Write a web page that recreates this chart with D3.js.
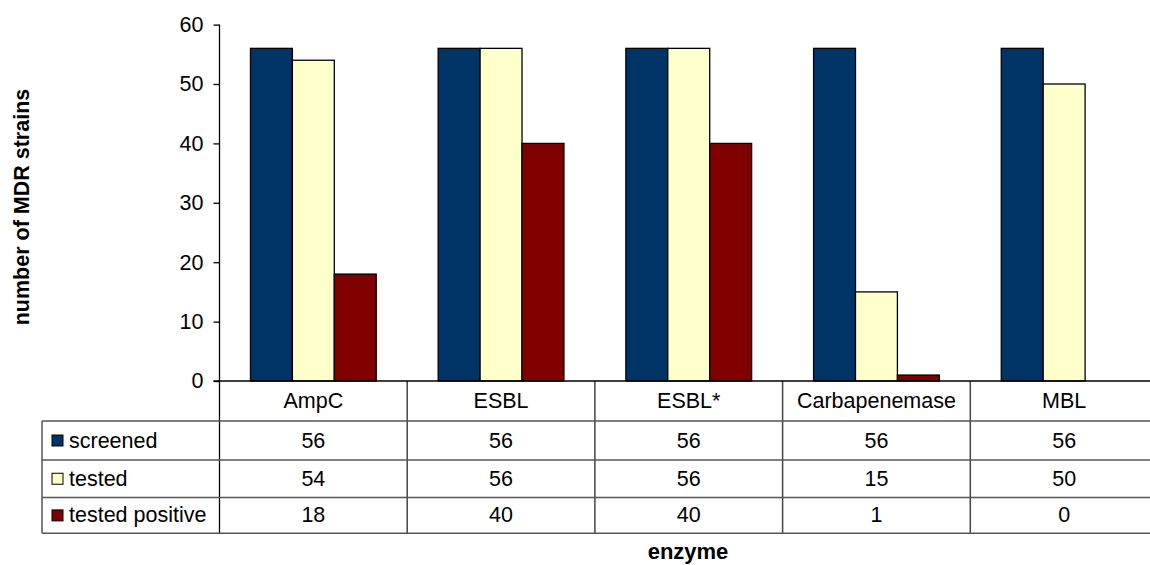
<!DOCTYPE html>
<html>
<head>
<meta charset="utf-8">
<script src="https://cdn.jsdelivr.net/npm/d3@7"></script>
<style>
  html, body { margin: 0; padding: 0; background: #fff; }
  svg { display: block; font-family: "Liberation Sans", Arial, sans-serif; }
</style>
</head>
<body>
<svg id="chart" width="1150" height="565"></svg>
<script>
// Enzymes screened in MDR strains
const categories = ["AmpC", "ESBL", "ESBL*", "Carbapenemase", "MBL"];
const seriesNames = ["screened", "tested", "tested positive"];
const screened = [56, 56, 56, 56, 56];
const tested = [54, 56, 56, 15, 50];
const testedPositive = [18, 40, 40, 1, 0];
const yTicks = [0, 10, 20, 30, 40, 50, 60];
const colors = ["#003366", "#FFFFCC", "#800000"];

const seriesValues = [screened, tested, testedPositive];

const svg = d3.select("#chart");
const fontSize = 21.5;

const plotLeft = 219.5, plotRight = 1158;
const plotTop = 24.6, plotBottom = 381;
const tableLeft = 42;
const rowLines = [381, 421, 460, 497.5, 533.3];

const x0 = d3.scaleBand().domain(categories).range([plotLeft, plotRight]).padding(0);
const groupPad = x0.bandwidth() * 0.165;
const x1 = d3.scaleBand().domain(seriesNames).range([groupPad, x0.bandwidth() - groupPad]).padding(0);
const y = d3.scaleLinear().domain([0, 60]).range([plotBottom, plotTop]);
const color = d3.scaleOrdinal().domain(seriesNames).range(colors);

// Bars
const groups = svg.append("g").selectAll("g")
  .data(categories)
  .join("g")
  .attr("transform", d => `translate(${x0(d)},0)`);

groups.selectAll("rect")
  .data((c, ci) => seriesNames.map((s, si) => ({ series: s, value: seriesValues[si][ci] })))
  .join("rect")
  .filter(d => d.value > 0)
  .attr("x", d => x1(d.series))
  .attr("y", d => y(d.value))
  .attr("width", x1.bandwidth())
  .attr("height", d => y(0) - y(d.value))
  .attr("fill", d => color(d.series))
  .attr("stroke", "#000")
  .attr("stroke-width", 1.3);

// Y axis
const yAxis = svg.append("g")
  .attr("transform", `translate(${plotLeft},0)`)
  .call(d3.axisLeft(y).tickValues(yTicks).tickSize(6).tickPadding(10).tickFormat(d3.format("d")));
yAxis.select(".domain").remove();
yAxis.selectAll(".tick line").attr("stroke", "#000").attr("stroke-width", 1.3);
yAxis.selectAll(".tick text")
  .attr("font-size", fontSize)
  .attr("font-family", "Liberation Sans, Arial, sans-serif")
  .attr("fill", "#000");

// Data table grid
const grid = svg.append("g").attr("fill", "none");
// vertical axis line continuing down through the table
grid.append("line")
  .attr("x1", plotLeft).attr("x2", plotLeft)
  .attr("y1", y(60)).attr("y2", rowLines[4])
  .attr("stroke", "#000").attr("stroke-width", 1.3);
// category dividers
grid.selectAll("line.cat")
  .data(categories.slice(1))
  .join("line")
  .attr("class", "cat")
  .attr("x1", d => x0(d)).attr("x2", d => x0(d))
  .attr("y1", rowLines[0]).attr("y2", rowLines[4])
  .attr("stroke", "#444").attr("stroke-width", 1.5);
// legend column left border
grid.append("line")
  .attr("x1", tableLeft).attr("x2", tableLeft)
  .attr("y1", rowLines[1]).attr("y2", rowLines[4])
  .attr("stroke", "#555").attr("stroke-width", 1.5);
// row lines
grid.selectAll("line.row")
  .data(rowLines.slice(1))
  .join("line")
  .attr("class", "row")
  .attr("x1", tableLeft).attr("x2", 1150)
  .attr("y1", d => d).attr("y2", d => d)
  .attr("stroke", "#555").attr("stroke-width", 1.5);
// baseline
grid.append("line")
  .attr("x1", plotLeft - 6).attr("x2", 1150)
  .attr("y1", rowLines[0]).attr("y2", rowLines[0])
  .attr("stroke", "#000").attr("stroke-width", 1.3);

// Category headers
svg.append("g").selectAll("text")
  .data(categories)
  .join("text")
  .attr("x", d => x0(d) + x0.bandwidth() / 2)
  .attr("y", (rowLines[0] + rowLines[1]) / 2)
  .attr("text-anchor", "middle")
  .attr("dominant-baseline", "central")
  .attr("font-size", fontSize)
  .text(d => d);

// Table rows: legend key + values
seriesNames.forEach((s, si) => {
  const cy = (rowLines[si + 1] + rowLines[si + 2]) / 2;
  const row = svg.append("g");
  row.append("rect")
    .attr("x", 52).attr("y", cy - 5.5)
    .attr("width", 11).attr("height", 11)
    .attr("fill", color(s))
    .attr("stroke", "#000").attr("stroke-width", 1);
  row.append("text")
    .attr("x", 69).attr("y", cy)
    .attr("dominant-baseline", "central")
    .attr("font-size", fontSize)
    .text(s);
  row.selectAll("text.val")
    .data(categories)
    .join("text")
    .attr("class", "val")
    .attr("x", d => x0(d) + x0.bandwidth() / 2)
    .attr("y", cy)
    .attr("text-anchor", "middle")
    .attr("dominant-baseline", "central")
    .attr("font-size", fontSize)
    .text((d, ci) => seriesValues[si][ci]);
});

// Axis titles
svg.append("text")
  .attr("transform", `translate(22,${207}) rotate(-90)`)
  .attr("text-anchor", "middle")
  .attr("dominant-baseline", "central")
  .attr("font-size", 21.5)
  .attr("font-weight", "bold")
  .text("number of MDR strains");

svg.append("text")
  .attr("x", 688)
  .attr("y", 559)
  .attr("text-anchor", "middle")
  .attr("font-size", 22)
  .attr("font-weight", "bold")
  .text("enzyme");
</script>
</body>
</html>
